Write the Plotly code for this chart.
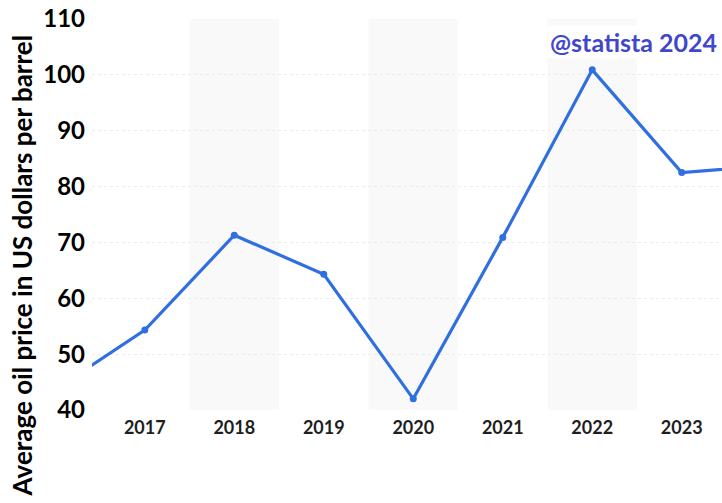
import plotly.graph_objects as go

years = [2016, 2017, 2018, 2019, 2020, 2021, 2022, 2023, 2024]
prices = [43.7, 54.3, 71.3, 64.3, 42.0, 70.9, 100.9, 82.5, 83.8]
shaded_years = [2018, 2020, 2022, 2024]
y_ticks = [40, 50, 60, 70, 80, 90, 100, 110]
x_ticks = [2017, 2018, 2019, 2020, 2021, 2022, 2023]

FONT = "Lato"

fig = go.Figure()
fig.add_trace(go.Scatter(
    x=years, y=prices, mode="lines+markers",
    line=dict(color="#2f6fe0", width=3.2),
    marker=dict(color="#2f6fe0", size=7),
    cliponaxis=True, showlegend=False,
))

shapes = []
for yr in shaded_years:
    shapes.append(dict(type="rect", xref="x", yref="y", x0=yr - 0.5, x1=yr + 0.5,
                       y0=40, y1=110, fillcolor="#f9f9f9", line=dict(width=0), layer="below"))

fig.update_layout(
    width=722, height=503,
    margin=dict(l=92, r=0, t=19, b=93),
    plot_bgcolor="white", paper_bgcolor="white",
    shapes=shapes,
    xaxis=dict(range=[2016.41, 2023.45], tickvals=x_ticks, ticktext=[str(v) for v in x_ticks],
               showgrid=False, zeroline=False, showline=False, ticks="",
               tickfont=dict(family=FONT, size=18, color="#1e1e1e", weight="bold"),
               ticklabelstandoff=5),
    yaxis=dict(range=[40, 110], tickvals=y_ticks, showgrid=True, gridcolor="#ececec",
               griddash="dot", gridwidth=1, zeroline=False, showline=False, ticks="",
               tickfont=dict(family=FONT, size=24, color="#000000", weight="bold"),
               ticklabelstandoff=6),
    annotations=[
        dict(text="Average oil price in US dollars per barrel", textangle=-90,
             xref="paper", yref="paper", x=-0.111, y=0.37, xanchor="center", yanchor="middle",
             showarrow=False, font=dict(family=FONT, size=26, color="#000000", weight="bold")),
        dict(text="@statista 2024", xref="paper", yref="paper", x=0.7238, y=0.941,
             xanchor="left", yanchor="middle", showarrow=False, bgcolor="white",
             font=dict(family=FONT, size=25, color="#3f48cc", weight="bold")),
    ],
)

fig.write_html("out.html")
